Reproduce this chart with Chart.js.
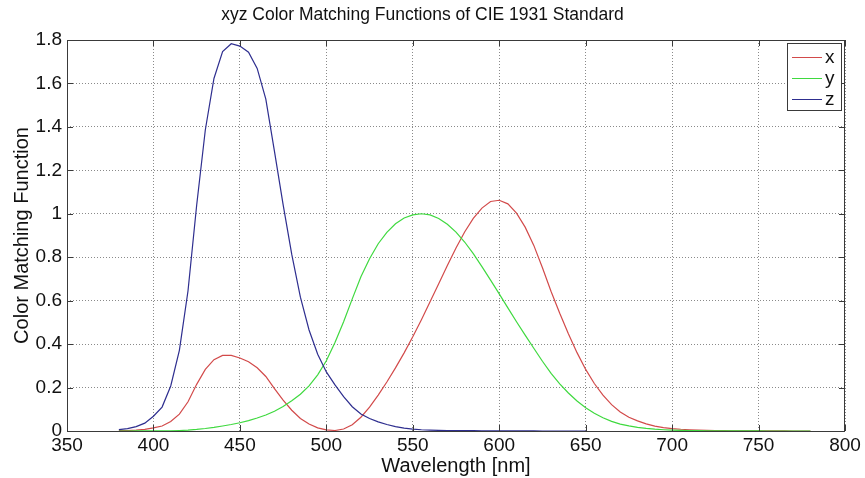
<!DOCTYPE html>
<html>
<head>
<meta charset="utf-8">
<title>CIE 1931 xyz Color Matching Functions</title>
<script src="https://cdn.jsdelivr.net/npm/chart.js@4.4.1/dist/chart.umd.min.js"></script>
<style>
  html, body { margin: 0; padding: 0; background: #fff; }
  #wrap { width: 865px; height: 478px; }
</style>
</head>
<body>
<div id="wrap"><canvas id="cmf" width="865" height="478"></canvas></div>
<script>
// CIE 1931 2° standard observer, sampled every 5 nm
const wavelengths = [];
for (let w = 380; w <= 780; w += 5) wavelengths.push(w);

const xBar = [
  0.001368, 0.002236, 0.004243, 0.007650, 0.014310, 0.023190, 0.043510, 0.077630,
  0.134380, 0.214770, 0.283900, 0.328500, 0.348280, 0.348060, 0.336200, 0.318700,
  0.290800, 0.251100, 0.195360, 0.142100, 0.095640, 0.057950, 0.032010, 0.014700,
  0.004900, 0.002400, 0.009300, 0.029100, 0.063270, 0.109600, 0.165500, 0.225750,
  0.290400, 0.359700, 0.433450, 0.512050, 0.594500, 0.678400, 0.762100, 0.842500,
  0.916300, 0.978600, 1.026300, 1.056700, 1.062200, 1.045600, 1.002600, 0.938400,
  0.854450, 0.751400, 0.642400, 0.541900, 0.447900, 0.360800, 0.283500, 0.218700,
  0.164900, 0.121200, 0.087400, 0.063600, 0.046770, 0.032900, 0.022700, 0.015840,
  0.011359, 0.008111, 0.005790, 0.004109, 0.002899, 0.002049, 0.001440, 0.001000,
  0.000690, 0.000476, 0.000332, 0.000235, 0.000166, 0.000117, 0.000083, 0.000059,
  0.000042
];

const yBar = [
  0.000039, 0.000064, 0.000120, 0.000217, 0.000396, 0.000640, 0.001210, 0.002180,
  0.004000, 0.007300, 0.011600, 0.016840, 0.023000, 0.029800, 0.038000, 0.048000,
  0.060000, 0.073900, 0.090980, 0.112600, 0.139020, 0.169300, 0.208020, 0.258600,
  0.323000, 0.407300, 0.503000, 0.608200, 0.710000, 0.793200, 0.862000, 0.914850,
  0.954000, 0.980300, 0.994950, 1.000000, 0.995000, 0.978600, 0.952000, 0.915400,
  0.870000, 0.816300, 0.757000, 0.694900, 0.631000, 0.566800, 0.503000, 0.441200,
  0.381000, 0.321000, 0.265000, 0.217000, 0.175000, 0.138200, 0.107000, 0.081600,
  0.061000, 0.044580, 0.032000, 0.023200, 0.017000, 0.011920, 0.008210, 0.005723,
  0.004102, 0.002929, 0.002091, 0.001484, 0.001047, 0.000740, 0.000520, 0.000361,
  0.000249, 0.000172, 0.000120, 0.000085, 0.000060, 0.000042, 0.000030, 0.000021,
  0.000015
];

// z is tabulated only up to 650 nm
const zBar = [
  0.006450, 0.010550, 0.020050, 0.036210, 0.067850, 0.110200, 0.207400, 0.371300,
  0.645600, 1.039050, 1.385600, 1.622960, 1.747060, 1.782600, 1.772110, 1.744100,
  1.669200, 1.528100, 1.287640, 1.041900, 0.812950, 0.616200, 0.465180, 0.353300,
  0.272000, 0.212300, 0.158200, 0.111700, 0.078250, 0.057250, 0.042160, 0.029840,
  0.020300, 0.013400, 0.008750, 0.005750, 0.003900, 0.002750, 0.002100, 0.001800,
  0.001650, 0.001400, 0.001100, 0.001000, 0.000800, 0.000600, 0.000340, 0.000240,
  0.000190, 0.000100, 0.000050, 0.000030, 0.000020, 0.000010, 0.000000
];

const seriesNames = ['x', 'y', 'z'];
const xTicks = [350, 400, 450, 500, 550, 600, 650, 700, 750, 800];
const yTicks = [0, 0.2, 0.4, 0.6, 0.8, 1, 1.2, 1.4, 1.6, 1.8];

const FONT = "'Liberation Sans', Arial, Helvetica, sans-serif";
const AXIS_COLOR = '#3a3a3a';
const GRID_COLOR = '#8a8a8a';
const colors = ['#d24a4a', '#3fd93f', '#2e2e8f'];

const toPoints = vals => vals.map((v, i) => ({ x: wavelengths[i], y: v }));

// Frame around the plot, inward tick marks on all four sides, and a boxed legend
const framePlugin = {
  id: 'frame',
  afterDraw(chart) {
    const { ctx, chartArea: a, scales } = chart;
    ctx.save();
    ctx.strokeStyle = AXIS_COLOR;
    ctx.lineWidth = 1;
    ctx.strokeRect(Math.round(a.left) + 0.5, Math.round(a.top) + 0.5,
                   Math.round(a.right - a.left) - 1, Math.round(a.bottom - a.top));
    const tl = 6;
    ctx.beginPath();
    scales.x.ticks.forEach(t => {
      const px = Math.round(scales.x.getPixelForValue(t.value)) + 0.5;
      ctx.moveTo(px, a.bottom); ctx.lineTo(px, a.bottom - tl);
      ctx.moveTo(px, a.top); ctx.lineTo(px, a.top + tl);
    });
    scales.y.ticks.forEach(t => {
      const py = Math.round(scales.y.getPixelForValue(t.value)) + 0.5;
      ctx.moveTo(a.left, py); ctx.lineTo(a.left + tl, py);
      ctx.moveTo(a.right, py); ctx.lineTo(a.right - tl, py);
    });
    ctx.stroke();

    // legend
    const lx = 787.5, ly = 43.5, lw = 54, lh = 67;
    ctx.fillStyle = '#fff';
    ctx.fillRect(lx, ly, lw, lh);
    ctx.strokeStyle = AXIS_COLOR;
    ctx.strokeRect(lx, ly, lw, lh);
    ctx.font = '19px ' + FONT;
    ctx.textBaseline = 'middle';
    chart.data.datasets.forEach((ds, i) => {
      const y = 57.5 + i * 21;
      ctx.strokeStyle = ds.borderColor;
      ctx.beginPath();
      ctx.moveTo(792, y); ctx.lineTo(822, y);
      ctx.stroke();
      ctx.fillStyle = '#111';
      ctx.fillText(ds.label, 825, y);
    });
    ctx.restore();
  }
};

new Chart(document.getElementById('cmf'), {
  type: 'line',
  data: {
    datasets: [
      { label: seriesNames[0], data: toPoints(xBar), borderColor: colors[0], order: 3 },
      { label: seriesNames[1], data: toPoints(yBar), borderColor: colors[1], order: 2 },
      { label: seriesNames[2], data: toPoints(zBar), borderColor: colors[2], order: 1 }
    ].map(d => Object.assign(d, { borderWidth: 1.2, pointRadius: 0, tension: 0, fill: false }))
  },
  options: {
    responsive: false,
    animation: false,
    devicePixelRatio: 1,
    layout: { padding: { left: 0, right: 20, top: 0, bottom: 0 } },
    plugins: {
      legend: { display: false },
      tooltip: { enabled: false },
      title: {
        display: true,
        text: 'xyz Color Matching Functions of CIE 1931 Standard',
        color: '#111',
        font: { family: FONT, size: 17.5, weight: 'normal' },
        padding: { top: 5, bottom: 14 }
      }
    },
    scales: {
      x: {
        type: 'linear',
        min: 350, max: 800,
        afterBuildTicks: s => { s.ticks = xTicks.map(v => ({ value: v })); },
        afterFit: s => { s.height = 47; },
        grid: { color: GRID_COLOR, drawTicks: false, lineWidth: 1 },
        border: { display: false, dash: [1, 2] },
        ticks: { color: '#111', font: { family: FONT, size: 19 }, padding: 3, maxRotation: 0 },
        title: { display: true, text: 'Wavelength [nm]', color: '#111',
                 font: { family: FONT, size: 20 }, padding: { top: 0, bottom: 0 } }
      },
      y: {
        min: 0, max: 1.8,
        afterBuildTicks: s => { s.ticks = yTicks.map(v => ({ value: v })); },
        afterFit: s => { s.width = 67; },
        grid: { color: GRID_COLOR, drawTicks: false, lineWidth: 1 },
        border: { display: false, dash: [1, 2] },
        ticks: { color: '#111', font: { family: FONT, size: 19 }, padding: 5,
                 callback: v => String(parseFloat(Number(v).toFixed(1))) },
        title: { display: true, text: 'Color Matching Function', color: '#111',
                 font: { family: FONT, size: 20 }, padding: { top: 10, bottom: 0 } }
      }
    }
  },
  plugins: [framePlugin]
});
</script>
</body>
</html>
